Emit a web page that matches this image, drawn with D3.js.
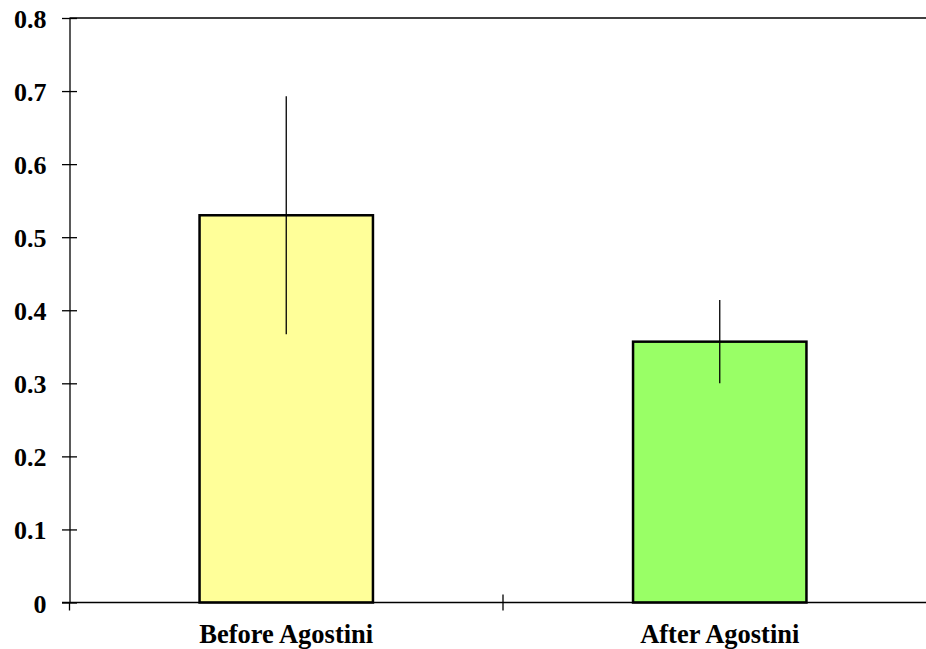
<!DOCTYPE html>
<html>
<head>
<meta charset="utf-8">
<script src="https://cdn.jsdelivr.net/npm/d3@7"></script>
<style>
  html, body { margin: 0; padding: 0; background: #fff; }
  svg { display: block; }
  text { font-family: "Liberation Serif", "Times New Roman", serif; font-weight: bold; fill: #000; }
</style>
</head>
<body>
<svg id="chart" width="926" height="649"></svg>
<script>
// Data
const categories = ["Before Agostini", "After Agostini"];
const values = [0.530, 0.357];
const errors = [0.163, 0.057];
const colors = ["#FFFF99", "#99FF66"];
const yTicks = [0, 0.1, 0.2, 0.3, 0.4, 0.5, 0.6, 0.7, 0.8];
const yTickLabels = ["0", "0.1", "0.2", "0.3", "0.4", "0.5", "0.6", "0.7", "0.8"];

const svg = d3.select("#chart");
const plot = { left: 69.5, right: 936.5, top: 18, bottom: 602.5 };
const FONT = '"Liberation Serif", "Times New Roman", serif';

const x = d3.scaleBand().domain(categories).range([plot.left, plot.right]).padding(0);
const y = d3.scaleLinear().domain([0, 0.8]).range([plot.bottom, plot.top]);

const barW = x.bandwidth() * 0.4;

// Top border line
svg.append("line")
  .attr("x1", plot.left).attr("x2", 926)
  .attr("y1", y(0.8)).attr("y2", y(0.8))
  .attr("stroke", "#000").attr("stroke-width", 1.3);

// Bars
svg.selectAll("rect.bar").data(categories).enter().append("rect")
  .attr("class", "bar")
  .attr("x", d => x(d) + (x.bandwidth() - barW) / 2)
  .attr("y", (d, i) => y(values[i]))
  .attr("width", barW)
  .attr("height", (d, i) => y(0) - y(values[i]))
  .attr("fill", (d, i) => colors[i])
  .attr("stroke", "#000").attr("stroke-width", 2.5);

// Error bars
svg.selectAll("line.err").data(categories).enter().append("line")
  .attr("class", "err")
  .attr("x1", d => x(d) + x.bandwidth() / 2)
  .attr("x2", d => x(d) + x.bandwidth() / 2)
  .attr("y1", (d, i) => y(values[i] + errors[i]))
  .attr("y2", (d, i) => y(values[i] - errors[i]))
  .attr("stroke", "#000").attr("stroke-width", 1.3);

// Y axis
const yAxis = d3.axisLeft(y).tickValues(yTicks)
  .tickFormat((d, i) => yTickLabels[i])
  .tickSizeInner(-7).tickSizeOuter(0).tickPadding(0);
const yg = svg.append("g").attr("transform", `translate(${plot.left},0)`).call(yAxis);
yg.attr("font-family", FONT);
yg.select(".domain").attr("stroke", "#000").attr("stroke-width", 1.3);
yg.selectAll(".tick line").attr("x1", -7.5).attr("x2", 7.5).attr("stroke", "#000").attr("stroke-width", 1.3);
yg.selectAll(".tick text")
  .attr("x", -23).attr("y", 9.5).attr("dy", 0)
  .style("font-size", "26px").style("font-family", FONT).style("font-weight", "bold")
  .attr("text-anchor", "end");

// X axis
const xAxis = d3.axisBottom(x).tickSize(0).tickSizeOuter(0).tickPadding(0);
const xg = svg.append("g").attr("transform", `translate(0,${plot.bottom})`).call(xAxis);
xg.attr("font-family", FONT);
xg.select(".domain").attr("d", `M${plot.left - 7.5},0H${plot.right}`).attr("stroke", "#000").attr("stroke-width", 1.3);
xg.selectAll(".tick text")
  .attr("y", 40).attr("dy", 0)
  .style("font-size", "26.5px").style("font-family", FONT).style("font-weight", "bold");

// Category boundary ticks
const boundaries = [plot.left].concat(categories.slice(1).map(c => x(c)));
xg.selectAll("line.bt").data(boundaries).enter().append("line")
  .attr("class", "bt")
  .attr("x1", d => d).attr("x2", d => d)
  .attr("y1", (d, i) => i === 0 ? 0 : -8).attr("y2", 8)
  .attr("stroke", "#000").attr("stroke-width", 1.3);
</script>
</body>
</html>
